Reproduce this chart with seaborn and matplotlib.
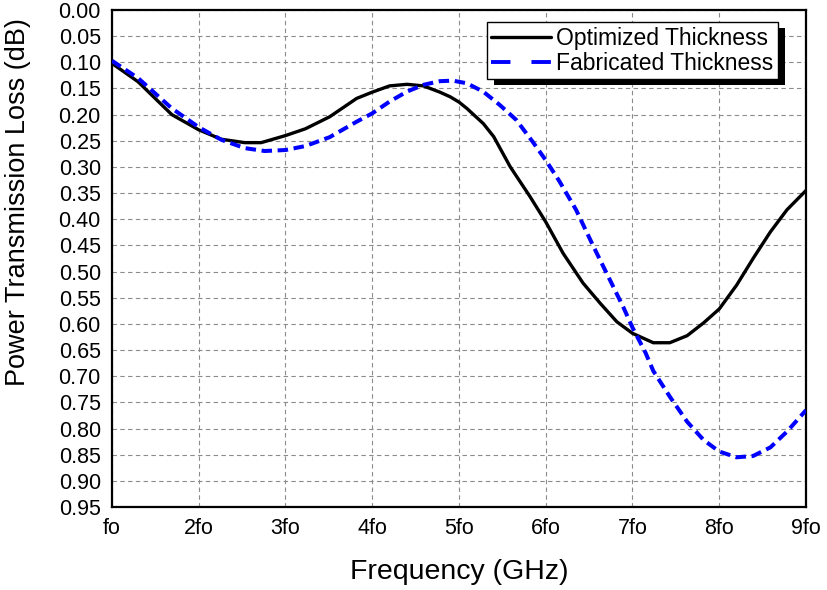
import matplotlib
matplotlib.use('Agg')
import matplotlib.pyplot as plt
import seaborn as sns
import numpy as np
from matplotlib.lines import Line2D
from matplotlib.patches import Rectangle

# values (x in multiples of fo, y in dB)
opt_freq = [1.00, 1.30, 1.69, 2.00, 2.26, 2.53, 2.72, 3.00, 3.23, 3.51, 3.82, 4.00,
            4.20, 4.40, 4.59, 4.78, 4.90, 5.00, 5.09, 5.28, 5.40, 5.59, 5.82, 6.00,
            6.20, 6.43, 6.63, 6.82, 7.00, 7.24, 7.43, 7.63, 7.82, 8.00, 8.20, 8.39,
            8.59, 8.78, 9.00]
opt_loss = [0.102, 0.137, 0.200, 0.229, 0.247, 0.2535, 0.2535, 0.240, 0.227, 0.204, 0.169, 0.157,
            0.145, 0.142, 0.145, 0.157, 0.166, 0.176, 0.188, 0.217, 0.242, 0.2995, 0.357, 0.405,
            0.465, 0.522, 0.561, 0.596, 0.618, 0.636, 0.636, 0.6225, 0.598, 0.5715, 0.526, 0.475,
            0.424, 0.382, 0.345]

fab_freq = [1.00, 1.30, 1.69, 2.00, 2.26, 2.53, 2.76, 3.00, 3.23, 3.51, 3.82, 4.00,
            4.20, 4.40, 4.59, 4.78, 4.93, 5.09, 5.28, 5.47, 5.66, 5.85, 6.00, 6.16,
            6.35, 6.55, 6.74, 6.90, 7.00, 7.15, 7.24, 7.43, 7.63, 7.82, 8.00, 8.20,
            8.39, 8.59, 8.78, 9.00]
fab_loss = [0.097, 0.130, 0.188, 0.224, 0.248, 0.264, 0.2695, 0.2676, 0.260, 0.243, 0.2135, 0.1975,
            0.175, 0.156, 0.143, 0.136, 0.135, 0.140, 0.156, 0.1815, 0.210, 0.252, 0.287, 0.328,
            0.382, 0.452, 0.516, 0.570, 0.607, 0.655, 0.690, 0.739, 0.787, 0.822, 0.844, 0.855,
            0.8525, 0.836, 0.806, 0.765]

series_names = ['Optimized Thickness', 'Fabricated Thickness']
x_ticks = [1, 2, 3, 4, 5, 6, 7, 8, 9]
x_ticklabels = ['fo', '2fo', '3fo', '4fo', '5fo', '6fo', '7fo', '8fo', '9fo']
y_ticks = np.round(np.arange(0, 0.951, 0.05), 2)

sns.set_style('white')
plt.rcParams['font.family'] = ['Liberation Sans', 'DejaVu Sans']
plt.rcParams['text.color'] = 'black'
plt.rcParams['axes.labelcolor'] = 'black'
plt.rcParams['xtick.color'] = 'black'
plt.rcParams['ytick.color'] = 'black'

fig, ax = plt.subplots(figsize=(8.27, 5.90), dpi=100)
fig.subplots_adjust(left=0.1354, right=0.9746, top=0.983, bottom=0.1407)

sns.lineplot(x=opt_freq, y=opt_loss, ax=ax, color='black', lw=2.4, sort=False, zorder=3)
sns.lineplot(x=fab_freq, y=fab_loss, ax=ax, color='#0000ff', lw=2.9, sort=False, zorder=4)
ax.lines[-1].set_linestyle((0, (2.6, 1.4)))

ax.set_xlim(1, 9)
ax.set_ylim(0.95, 0.0)
ax.set_xticks(x_ticks)
ax.set_xticklabels(x_ticklabels)
ax.set_yticks(y_ticks)
ax.set_yticklabels([f'{v:.2f}' for v in y_ticks])

ax.tick_params(axis='both', direction='in', length=6, width=1.5, colors='black',
               labelcolor='black', labelsize=15.5, top=False, right=False)
ax.tick_params(axis='y', pad=8)
ax.tick_params(axis='x', pad=8)

ax.grid(True, color='#8c8c8c', linestyle=(0, (4, 3)), lw=0.8)
for sp in ax.spines.values():
    sp.set_color('black')
    sp.set_linewidth(1.6)

ax.set_xlabel('Frequency (GHz)', fontsize=20.5, color='black')
ax.set_ylabel('Power Transmission Loss (dB)', fontsize=19.5, color='black')
ax.xaxis.set_label_coords(0.5, -0.105)
ax.yaxis.set_label_coords(-0.117, 0.614)

handles = [Line2D([], [], color='black', lw=2.4),
           Line2D([], [], color='#0000ff', lw=2.8, linestyle=(0, (5.0, 5.4)))]
leg = ax.legend(handles, series_names, loc='upper right', bbox_to_anchor=(0.96, 0.976),
                fontsize=16.5, frameon=True, fancybox=False, framealpha=1,
                edgecolor='black', handlelength=2.6, handletextpad=0.25,
                borderpad=0.2, labelspacing=0.1, borderaxespad=0)
leg.get_frame().set_linewidth(1.0)
leg.set_zorder(6)

# solid black drop shadow behind the legend box
fig.canvas.draw()
bb = leg.get_window_extent(fig.canvas.get_renderer())
inv = fig.transFigure.inverted()
(x0, y0), (x1, y1) = inv.transform([(bb.x0 + 7, bb.y0 - 6), (bb.x1 + 7, bb.y1 - 6)])
ax.add_patch(Rectangle((x0, y0), x1 - x0, y1 - y0, transform=fig.transFigure,
                       facecolor='black', edgecolor='none', zorder=5.5, clip_on=False))

fig.savefig('out.png', dpi=100)
